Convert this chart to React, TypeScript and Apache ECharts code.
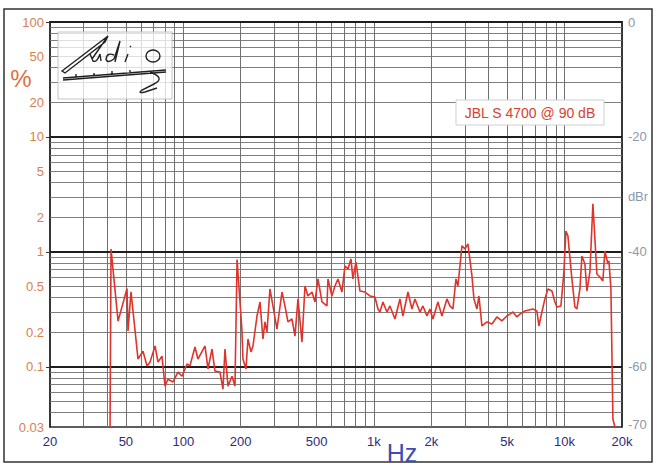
import React, { useEffect, useRef } from 'react';
import * as echarts from 'echarts';

// Frequency (Hz) and THD (%)
const freqHz = [
  41.3, 41.8, 45.5, 50.7, 51.3, 53.2, 57.9, 61.5, 64.5, 66.9,
  71.1, 73.7, 77.3, 80.2, 83.1, 88.3, 93.8, 98.5, 104.6, 108.4,
  115.2, 119.4, 130, 134.8, 141.5, 146.6, 155.8, 161.5, 165.5, 171.6,
  180.1, 186.7, 191.5, 203, 205.6, 213.2, 218.4, 226.5, 232, 243.6,
  252.6, 261.8, 268.2, 274.8, 284.8, 295.3, 310, 329.4, 341.4, 354,
  371.7, 385.4, 399.7, 419.3, 434.8, 450.8, 473.3, 490.6, 508.8, 533.8,
  567, 574, 602, 624.6, 647.6, 679.6, 704.8, 730.8, 757.6, 776,
  804.8, 844.6, 897, 952.8, 1012, 1050, 1075, 1115, 1170, 1213,
  1289, 1369, 1419, 1508, 1582, 1641, 1743, 1807, 1897, 1966,
  2039, 2166, 2273, 2414, 2504, 2596, 2692, 2758, 2894, 3002,
  3112, 3266, 3346, 3470, 3554, 3684, 3914, 4158, 4416, 4690,
  4982, 5166, 5358, 5622, 5830, 6192, 6822, 7158, 7334, 7604,
  7884, 8174, 8580, 8896, 9114, 9564, 9916, 10158, 10406, 10922,
  11324, 11602, 12028, 12324, 12780, 13092, 13574, 14074, 14770, 15314,
  15878, 16266, 16874, 17078, 17496, 17924, 18362
];
const thdPct = [
  0.03, 1.06, 0.25, 0.48, 0.205, 0.45, 0.117, 0.137, 0.102, 0.11,
  0.152, 0.11, 0.124, 0.068, 0.078, 0.074, 0.09, 0.083, 0.106, 0.102,
  0.149, 0.117, 0.152, 0.096, 0.143, 0.092, 0.09, 0.064, 0.143, 0.068,
  0.083, 0.068, 0.86, 0.21, 0.117, 0.096, 0.175, 0.135, 0.152, 0.277,
  0.367, 0.175, 0.246, 0.201, 0.476, 0.339, 0.213, 0.448, 0.339, 0.246,
  0.261, 0.185, 0.39, 0.164, 0.505, 0.414, 0.448, 0.367, 0.582, 0.367,
  0.339, 0.582, 0.414, 0.505, 0.582, 0.448, 0.755, 0.711, 0.869, 0.582,
  0.818, 0.457, 0.448, 0.414, 0.405, 0.319, 0.3, 0.367, 0.3, 0.339,
  0.261, 0.39, 0.277, 0.448, 0.319, 0.39, 0.3, 0.339, 0.277, 0.319,
  0.261, 0.367, 0.277, 0.39, 0.339, 0.319, 0.582, 0.505, 1.128, 1.062,
  1.174, 0.618, 0.39, 0.319, 0.414, 0.227, 0.246, 0.236, 0.272, 0.251,
  0.277, 0.288, 0.3, 0.272, 0.288, 0.306, 0.319, 0.306, 0.227, 0.3,
  0.39, 0.476, 0.457, 0.367, 0.332, 0.339, 0.669, 1.52, 1.38, 0.582,
  0.332, 0.319, 0.476, 0.923, 0.786, 0.457, 0.669, 2.62, 0.643, 0.605,
  0.559, 1.02, 0.786, 0.835, 0.476, 0.035, 0.03
];

const xTickLabels = [20, 50, 100, 200, 500, 1000, 2000, 5000, 10000, 20000];
const yTickLabels = [0.03, 0.1, 0.2, 0.5, 1, 2, 5, 10, 20, 50, 100];
const dbrLabels = [0, -20, -40, -60, -70];
const gridX = [
  30, 40, 50, 60, 70, 80, 90, 100, 200, 300, 400, 500, 600, 700, 800, 900,
  1000, 2000, 3000, 4000, 5000, 6000, 7000, 8000, 9000, 10000
];
const gridYMinor = [
  0.04, 0.05, 0.06, 0.07, 0.08, 0.09, 0.2, 0.3, 0.4, 0.5, 0.6, 0.7, 0.8, 0.9,
  2, 3, 4, 5, 6, 7, 8, 9, 20, 30, 40, 50, 60, 70, 80, 90
];
const gridYMajor = [0.1, 1, 10, 100];
const seriesName = 'JBL S 4700 @ 90 dB';

const logoPath =
  'M4 39 L50 4 L47 10 L7 41 Z ' +
  'M50 4 L34 27 ' +
  'M32 22 L35 29 Q39 31 42 22 L43 29 ' +
  'M56 23 Q49 20 48 27 Q49 32 56 27 L62 9 M62 9 L57 30 ' +
  'M70 22 L67 30 M72 15 L73 14 ' +
  'M88 24 A7 6 0 1 0 102 24 A7 6 0 1 0 88 24 ' +
  'M5 46 L108 38 M5 48 L108 40 ' +
  'M18 45 L18 42 M36 44 L36 41 M54 42 L54 39 M72 41 L72 38 ' +
  'M92 40 Q108 46 96 52 L84 58 Q79 62 87 60 L99 56';

let registered = false;
function ensureShape() {
  if (registered) return;
  echarts.graphic.registerShape('audioLogo', echarts.graphic.extendPath(logoPath, {}));
  registered = true;
}

export default function App() {
  const ref = useRef<HTMLDivElement>(null);
  useEffect(() => {
    ensureShape();
    const chart = echarts.init(ref.current!, null, { renderer: 'svg' });
    const font = 'Liberation Sans, Arial, sans-serif';
    const data = freqHz.map((f, i) => [f, thdPct[i]]);
    const solid = (color: string, width: number) => ({ type: 'solid', color, width });
    const option: any = {
      animation: false,
      backgroundColor: '#ffffff',
      textStyle: { fontFamily: font },
      grid: {
        left: 50, right: 35, top: 22, bottom: 39,
        show: true, backgroundColor: '#ffffff', borderColor: '#2a2a2a', borderWidth: 1.5
      },
      xAxis: {
        type: 'log', logBase: 10, min: 20, max: 20000,
        axisLine: { show: true, lineStyle: { color: '#1e1e1e', width: 2 } },
        splitLine: { show: false },
        axisTick: { show: true, customValues: xTickLabels, length: 5, lineStyle: { color: '#333' } },
        axisLabel: {
          customValues: xTickLabels, color: '#2d2a7a', fontSize: 13, margin: 8, fontFamily: font,
          formatter: (v: number) => (v >= 1000 ? Math.round(v / 1000) + 'k' : String(Math.round(v)))
        }
      },
      yAxis: [
        {
          type: 'log', logBase: 10, min: 0.03, max: 100, position: 'left',
          axisLine: { show: true, lineStyle: { color: '#2a2a2a', width: 1.5 } },
          splitLine: { show: false },
          axisTick: { show: true, customValues: [0.1, 1, 10, 100], length: 4, lineStyle: { color: '#333' } },
          axisLabel: {
            customValues: yTickLabels, color: '#d9804f', fontSize: 13, margin: 6, fontFamily: font,
            formatter: (v: number) => String(Math.round(v * 100) / 100)
          }
        },
        {
          type: 'value', min: -70.458, max: 0, position: 'right',
          axisLine: { show: true, lineStyle: { color: '#2a2a2a', width: 1.5 } },
          splitLine: { show: false },
          axisTick: { show: false },
          axisLabel: {
            customValues: dbrLabels, color: '#8a9aab', fontSize: 13, margin: 6, fontFamily: font,
            padding: [0, 0, 8, 0]
          }
        }
      ],
      series: [
        {
          type: 'line', data: [], silent: true, z: 1,
          markLine: {
            silent: true, symbol: ['none', 'none'], label: { show: false },
            emphasis: { disabled: true }, animation: false,
            lineStyle: { type: 'solid' },
            data: [
              ...gridX.map((v) => ({ xAxis: v, lineStyle: solid('#707070', 1) })),
              ...gridYMinor.map((v) => ({ yAxis: v, lineStyle: solid('#707070', 0.9) })),
              ...gridYMajor.map((v) => ({ yAxis: v, lineStyle: solid('#1e1e1e', 2) }))
            ]
          }
        },
        {
          name: seriesName, type: 'line', data, z: 5,
          showSymbol: false, symbol: 'none',
          lineStyle: { color: '#e0332b', width: 1.6 }
        }
      ],
      graphic: [
        {
          type: 'rect', z: 0, silent: true,
          shape: { x: 4, y: 9, width: 648, height: 453 },
          style: { fill: 'none', stroke: '#333', lineWidth: 1.5 }
        },
        {
          type: 'rect', z: 100, silent: true,
          shape: { x: 58, y: 32, width: 114, height: 67 },
          style: { fill: 'rgba(255,255,255,0.75)', stroke: '#c4c4c4', lineWidth: 1 }
        },
        {
          type: 'audioLogo', z: 101, silent: true, x: 58, y: 32,
          style: { fill: 'none', stroke: '#222', lineWidth: 1.4 }
        },
        {
          type: 'rect', z: 100, silent: true,
          shape: { x: 456, y: 100, width: 148, height: 25 },
          style: { fill: '#ffffff', stroke: '#cfcfcf', lineWidth: 1 }
        },
        {
          type: 'text', z: 101, silent: true, x: 530, y: 113,
          style: { text: seriesName, fill: '#d8402f', fontSize: 14, fontFamily: font, align: 'center', verticalAlign: 'middle' }
        },
        {
          type: 'text', z: 101, silent: true, x: 21, y: 78,
          style: { text: '%', fill: '#e0703f', fontSize: 24, fontFamily: font, align: 'center', verticalAlign: 'middle' }
        },
        {
          type: 'text', z: 101, silent: true, x: 638, y: 196,
          style: { text: 'dBr', fill: '#8a9aab', fontSize: 13, fontFamily: font, align: 'center', verticalAlign: 'middle' }
        },
        {
          type: 'text', z: 101, silent: true, x: 402, y: 453,
          style: { text: 'Hz', fill: '#3d4db5', fontSize: 25, fontFamily: font, align: 'center', verticalAlign: 'middle' }
        }
      ]
    };
    chart.setOption(option);
    return () => chart.dispose();
  }, []);
  return (
    <div
      ref={ref}
      style={{ position: 'absolute', left: 0, top: 0, width: 657, height: 466, background: '#fff' }}
    />
  );
}
